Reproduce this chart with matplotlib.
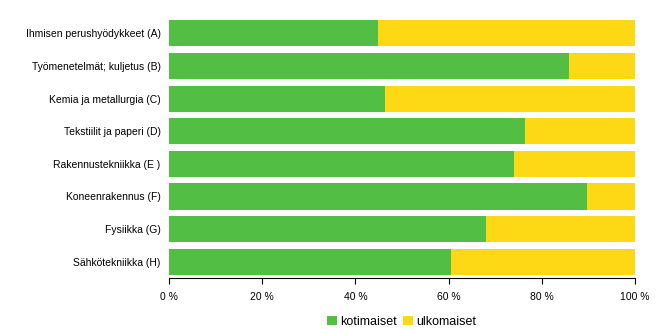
import numpy as np
import matplotlib
matplotlib.use("Agg")
import matplotlib.pyplot as plt

plt.rcParams['font.family'] = ['Liberation Sans', 'DejaVu Sans']

# categories, top to bottom
categories = ["Ihmisen perushyödykkeet (A)", "Työmenetelmät; kuljetus (B)",
              "Kemia ja metallurgia (C)", "Tekstiilit ja paperi (D)",
              "Rakennustekniikka (E )", "Koneenrakennus (F)",
              "Fysiikka (G)", "Sähkötekniikka (H)"]
kotimaiset = [44.8, 85.8, 46.3, 76.3, 74.1, 89.6, 68.0, 60.5]
ulkomaiset = [100 - v for v in kotimaiset]
xticks = [0, 20, 40, 60, 80, 100]
xtick_labels = ["0 %", "20 %", "40 %", "60 %", "80 %", "100 %"]

green = "#52be44"
yellow = "#fdd814"

fig = plt.figure(figsize=(6.58, 3.33), dpi=100)
ax = fig.add_axes([0.2568, 0.165, 0.7082, 0.784])

y = np.arange(len(categories))
ax.barh(y, kotimaiset, height=0.8, color=green, label="kotimaiset")
ax.barh(y, ulkomaiset, left=kotimaiset, height=0.8, color=yellow, label="ulkomaiset")

ax.set_xlim(0, 100)
ax.set_ylim(len(categories) - 0.5, -0.5)
ax.set_yticks(y)
ax.set_yticklabels(categories, fontsize=7.5)
ax.tick_params(axis='y', length=0, pad=6)
ax.set_xticks(xticks)
ax.set_xticklabels(xtick_labels, fontsize=7.5)
ax.tick_params(axis='x', length=4, width=0.8, pad=6)

for s in ["top", "right", "left"]:
    ax.spines[s].set_visible(False)
ax.spines["bottom"].set_linewidth(0.8)

ax.legend(loc="center", bbox_to_anchor=(0.5, -0.169), ncol=2, frameon=False,
          fontsize=9, handlelength=0.75, handleheight=0.75, handletextpad=0.3,
          columnspacing=0.5, borderpad=0)

fig.savefig("out.png", dpi=100)
